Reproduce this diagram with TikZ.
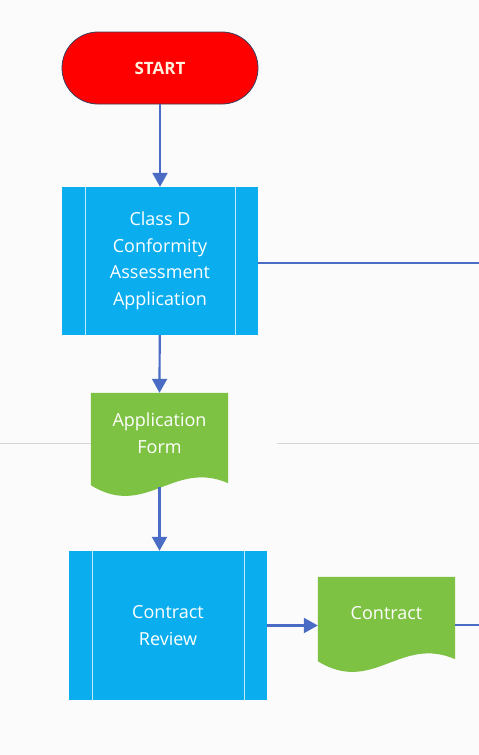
\documentclass[tikz,border=0pt]{standalone}
\usepackage{fontspec}
\setmainfont{Open Sans}
\usetikzlibrary{arrows.meta, shapes.misc, positioning, calc}

\definecolor{startred}{HTML}{FF0000}
\definecolor{startedge}{HTML}{3B3F5E}
\definecolor{starttext}{HTML}{FFF1DC}
\definecolor{taskblue}{HTML}{0AAEEF}
\definecolor{docgreen}{HTML}{7DC243}
\definecolor{flowblue}{HTML}{4A6CC4}
\definecolor{lanegray}{HTML}{D6D6D6}
\definecolor{pagebg}{HTML}{FBFBFB}

\pgfdeclarelayer{background}
\pgfsetlayers{background,main}

\tikzset{
  terminal/.style={rectangle, rounded corners=36pt, draw=startedge, line width=0.8pt,
    fill=startred, text=starttext, font=\fontsize{17}{20}\selectfont\bfseries,
    minimum width=196pt, minimum height=72pt},
  taskbox/.style={rectangle, fill=taskblue, text=white, align=center,
    font=\fontsize{18}{26.5}\selectfont, inner sep=0pt,
    path picture={
      \draw[white!75!taskblue, line width=0.8pt]
        ([xshift=23pt]path picture bounding box.north west) -- ([xshift=23pt]path picture bounding box.south west)
        ([xshift=-23pt]path picture bounding box.north east) -- ([xshift=-23pt]path picture bounding box.south east);
    }},
  docbox/.style={rectangle, text=white, align=center, inner sep=0pt,
    font=\fontsize{18}{27}\selectfont,
    minimum width=137pt,
    append after command={\pgfextra{
      \begin{pgfonlayer}{background}
        \fill[docgreen] (\tikzlastnode.north west) -- (\tikzlastnode.north east)
          -- ([yshift=-10pt]\tikzlastnode.south east)
          .. controls +(-55pt,24pt) and +(55pt,-34pt) .. ([yshift=-12pt]\tikzlastnode.south west)
          -- cycle;
      \end{pgfonlayer}}}},
  flow/.style={draw=flowblue, line width=2.2pt},
}

\begin{document}
\begin{tikzpicture}[x=1pt, y=-1pt, >={Triangle[width=15pt,length=14pt]}]
    \useasboundingbox (0,0) rectangle (479,755);
    \begin{pgfonlayer}{background}
      \fill[pagebg] (0,0) rectangle (479,755);
      % lane separator
      \draw[lanegray, line width=1pt] (0,443) -- (91,443) (277,443) -- (479,443);
    \end{pgfonlayer}

    \node[terminal] (start) at (160,68) {START};

    \node[taskbox, minimum width=196pt, minimum height=148pt] (classd) at (160,261)
      {\rule{0pt}{8pt}Class D\\Conformity\\Assessment\\Application};

    \node[docbox, minimum height=80pt] (appform) at (159.5,433) {Application\\Form};

    \node[taskbox, minimum width=198pt, minimum height=149pt] (review) at (168,625.5)
      {Contract\\Review};

    \node[docbox, minimum height=72pt] (contract) at (386.5,613) {Contract};

    \coordinate (exit1) at (479,263);
    \coordinate (exit2) at (479,625);

    \draw[flow, ->] (start) -- (classd);
    \draw[flow] (classd.east |- exit1) -- (exit1);
    \draw[flow, ->] (classd) -- (appform.north);
    \draw[flow, ->] ([yshift=-14pt]appform.south) -- (appform.south |- review.north);
    \draw[flow, ->] (review.east) -- (review.east -| contract.west);
    \draw[flow] (contract.east |- exit2) -- (exit2);
\end{tikzpicture}
\end{document}
